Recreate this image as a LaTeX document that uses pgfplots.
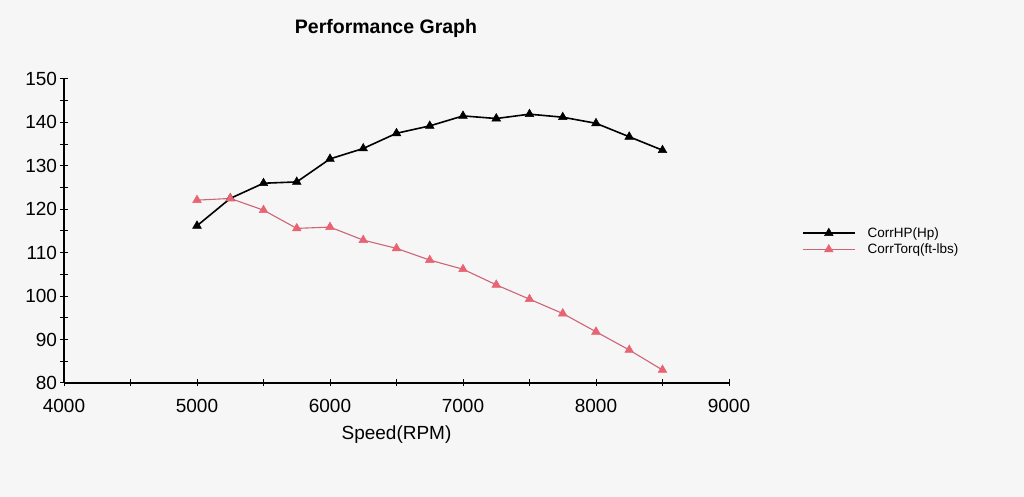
\documentclass[border=0pt]{standalone}
\usepackage{pgfplots}
\pgfplotsset{compat=1.18}
\usepackage{fontspec}
\setmainfont{Liberation Sans}
\definecolor{bg}{RGB}{246,246,246}
\definecolor{torqline}{RGB}{205,100,120}
\definecolor{torqmark}{RGB}{232,100,115}
\begin{document}
\begin{tikzpicture}
\fill[bg, use as bounding box] (0,0) rectangle (1024bp,497bp);
\node[font=\fontsize{19.5bp}{21bp}\selectfont\bfseries] at (386bp,469bp) {Performance Graph};
\begin{axis}[
  at={(64bp,114bp)}, anchor=south west,
  scale only axis, width=665bp, height=304bp,
  xmin=4000, xmax=9000, ymin=80, ymax=150,
  axis x line*=bottom, axis y line*=left,
  axis line style={black, line width=1.3bp},
  xtick={4000,5000,...,9000}, minor xtick={4500,5500,...,8500},
  ytick={80,90,...,150}, minor ytick={85,95,...,145},
  tick align=center,
  major tick length=7bp, minor tick length=7bp,
  every tick/.style={black, line width=1bp},
  /pgf/number format/assume math mode=true,
  /pgf/number format/1000 sep={},
  tick label style={font=\fontsize{19bp}{21bp}\selectfont},
  xticklabel style={yshift=-9bp},
  xlabel={Speed(RPM)},
  xlabel style={font=\fontsize{19bp}{21bp}\selectfont, yshift=-6bp},
  legend style={at={(1.105,0.525)}, anchor=north west, draw=none, fill=none,
    font=\fontsize{13.5bp}{15bp}\selectfont, row sep=1bp,
    legend cell align=left,
    /tikz/every odd column/.append style={column sep=10bp}},
  legend image code/.code={\draw[mark repeat=2,mark phase=2,#1] plot coordinates {(0bp,0bp)(26bp,0bp)(52bp,0bp)};},
]
\addplot[black, line width=1.6bp, mark=triangle*, mark size=5bp, mark options={fill=black, line width=0.5bp}] coordinates {
(5000,116.2) (5250,122.5) (5500,126.0) (5750,126.3) (6000,131.6) (6250,134.0)
(6500,137.5) (6750,139.2) (7000,141.5) (7250,140.9) (7500,141.9) (7750,141.2)
(8000,139.8) (8250,136.7) (8500,133.6)};
\addlegendentry{CorrHP(Hp)}
\addplot[torqline, line width=1.1bp, mark=triangle*, mark size=5bp, mark options={fill=torqmark, draw=torqmark, line width=0.5bp}] coordinates {
(5000,122.1) (5250,122.5) (5500,119.8) (5750,115.6) (6000,115.9) (6250,112.9)
(6500,111.0) (6750,108.3) (7000,106.2) (7250,102.6) (7500,99.3) (7750,96.0)
(8000,91.8) (8250,87.6) (8500,83.0)};
\addlegendentry{CorrTorq(ft-lbs)}
\end{axis}
\end{tikzpicture}
\end{document}
